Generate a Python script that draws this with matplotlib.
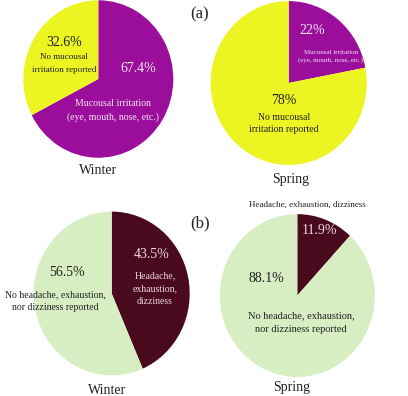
import matplotlib.pyplot as plt

W, H = 408, 396
SY = 1.05  # pies in the reference are a bit taller than wide

# (a) mucousal irritation: [irritation, none]
winter_mucosal = [67.4, 32.6]
spring_mucosal = [22.0, 78.0]
# (b) headache, exhaustion, dizziness: [symptoms, none]
winter_headache = [43.5, 56.5]
spring_headache = [11.9, 88.1]
seasons = ['Winter', 'Spring']

purple = '#9b0e9b'
yellow = '#ecf421'
maroon = '#4a0a1e'
green = '#d7eec3'
dark = '#222222'

plt.rcParams['font.family'] = ['Liberation Serif', 'DejaVu Serif']

fig = plt.figure(figsize=(W / 100, H / 100), dpi=100)
ax = fig.add_axes([0, 0, 1, 1])


def Y(y):
    return (H - y) / SY


def pie(vals, colors, cx, cy, r):
    ax.pie(vals, colors=colors, startangle=90, counterclock=False,
           center=(cx, Y(cy)), radius=r, wedgeprops=dict(linewidth=0))


def txt(x, y, s, size, color=dark):
    ax.text(x, Y(y), s, fontsize=size, color=color, ha='center', va='center')


def pct(v):
    return ('%.1f' % v).rstrip('0').rstrip('.') + '%'


pie(winter_mucosal, [purple, yellow], 98.3, 79, 75)
pie(spring_mucosal, [purple, yellow], 288.7, 83, 78)
pie(winter_headache, [maroon, green], 111.7, 293.5, 78)
pie(spring_headache, [maroon, green], 297.3, 295.5, 77.5)

ax.set_aspect('auto')
ax.set_xlim(0, W)
ax.set_ylim(0, H / SY)
ax.axis('off')

light = '#f3e6f3'
pink = '#ecd8de'

# top left
txt(64, 42, pct(winter_mucosal[1]), 10)
txt(64, 57, 'No mucousal', 6.5)
txt(64, 70, 'irritation reported', 6.5)
txt(138, 68, pct(winter_mucosal[0]), 10, light)
txt(113, 104, 'Mucousal irritation', 7, light)
txt(113, 117, '(eye, mouth, nose, etc.)', 7, light)
txt(98, 170, seasons[0], 10)

# top right
txt(312, 30, pct(spring_mucosal[0]), 10, light)
txt(331, 52, 'Mucousal irritation', 5, light)
txt(331, 60, '(eye, mouth, nose, etc.)', 5, light)
txt(284, 100, pct(spring_mucosal[1]), 10)
txt(284, 117, 'No mucousal', 7)
txt(284, 130, 'irritation reported', 7)
txt(291, 180, seasons[1], 10)

# bottom left
txt(67, 273, pct(winter_headache[1]), 10)
txt(55, 295, 'No headache, exhaustion,', 7)
txt(55, 308, 'nor dizziness reported', 7)
txt(152, 255, pct(winter_headache[0]), 10, pink)
txt(155, 276, 'Headache,', 7, pink)
txt(155, 289, 'exhaustion,', 7, pink)
txt(155, 302, 'dizziness', 7, pink)
txt(107, 390, seasons[0], 10)

# bottom right
txt(319, 231, pct(spring_headache[0]), 10, pink)
txt(266, 278, pct(spring_headache[1]), 10)
txt(301, 316, 'No headache, exhaustion,', 7.5)
txt(301, 330, 'nor dizziness reported', 7.5)
txt(307, 205, 'Headache, exhaustion, dizziness', 6.5)
txt(292, 388, seasons[1], 10)

txt(200, 14, '(a)', 12)
txt(200, 223, '(b)', 12)

fig.savefig('out.png', dpi=100)
